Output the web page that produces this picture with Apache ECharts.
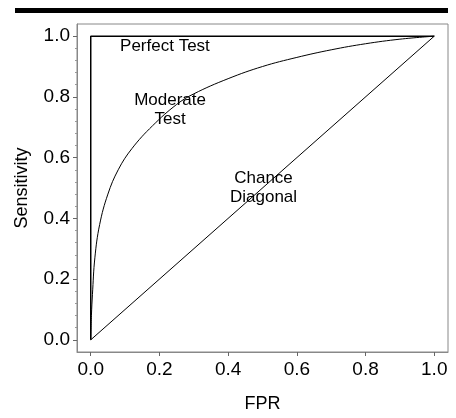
<!DOCTYPE html>
<html lang="en">
<head>
    <meta charset="UTF-8">
    <title>ROC curves</title>
    <script src="https://cdn.jsdelivr.net/npm/echarts@6.0.0/dist/echarts.min.js"></script>
    <style>
        body { margin: 0; background: #fff; }
        #main { width: 456px; height: 418px; }
    </style>
</head>
<body>
    <div id="main"></div>
    <script>
        // axis ticks
        const tickValues = [0, 0.2, 0.4, 0.6, 0.8, 1.0];

        // perfect test: straight up, then across
        const perfectX = [0, 0, 1];
        const perfectY = [0, 1, 1];

        // moderate test curve
        const moderateX = [0, 0.002, 0.005, 0.012, 0.026, 0.05, 0.08, 0.12, 0.18, 0.25, 0.3, 0.4, 0.5, 0.6, 0.7, 0.8, 0.9, 1.0];
        const moderateY = [0, 0.08, 0.15, 0.27, 0.38, 0.48, 0.56, 0.63, 0.705, 0.775, 0.81, 0.86, 0.9, 0.93, 0.955, 0.975, 0.99, 1.0];

        // chance diagonal
        const chanceX = [0, 1];
        const chanceY = [0, 1];

        // text notes, placed in data units
        const noteText = ['Perfect Test', 'Moderate\nTest', 'Chance\nDiagonal'];
        const noteX = [0.216, 0.231, 0.503];
        const noteY = [0.965, 0.756, 0.502];

        const zip = (xs, ys) => xs.map((x, i) => [x, ys[i]]);

        const chart = echarts.init(document.getElementById('main'));
        const font = 'Liberation Sans, Arial, Helvetica, sans-serif';

        const axisCommon = {
            type: 'value',
            min: -0.04,
            max: 1.04,
            splitLine: { show: false },
            axisLine: { show: true, onZero: false, lineStyle: { color: '#888', width: 1 } },
            axisTick: { show: true, length: 4, customValues: tickValues, lineStyle: { color: '#666' } },
            axisLabel: {
                customValues: tickValues,
                color: '#000',
                fontSize: 19,
                fontFamily: font,
                formatter: v => v.toFixed(1)
            },
            nameLocation: 'middle',
            nameTextStyle: { color: '#000', fontSize: 18, fontFamily: font }
        };

        const option = {
            animation: false,
            grid: {
                left: 77, right: 8, top: 24, bottom: 64,
                show: true, borderColor: '#888', borderWidth: 1
            },
            graphic: [{
                type: 'rect',
                shape: { x: 15, y: 8, width: 433, height: 5 },
                style: { fill: '#000' }
            }],
            xAxis: Object.assign({}, axisCommon, {
                name: 'FPR',
                nameGap: 43,
                axisLabel: Object.assign({}, axisCommon.axisLabel, { margin: 8 })
            }),
            yAxis: Object.assign({}, axisCommon, {
                name: 'Sensitivity',
                nameGap: 46,
                axisLabel: Object.assign({}, axisCommon.axisLabel, { margin: 7 }),
                minorTick: { show: true, splitNumber: 5, length: 2, lineStyle: { color: '#999' } }
            }),
            series: [
                {
                    type: 'line',
                    data: zip(chanceX, chanceY),
                    symbol: 'none',
                    lineStyle: { color: '#000', width: 1 }
                },
                {
                    type: 'line',
                    data: zip(moderateX, moderateY),
                    symbol: 'none',
                    smooth: 0.4,
                    lineStyle: { color: '#000', width: 1 }
                },
                {
                    type: 'line',
                    data: zip(perfectX, perfectY),
                    symbol: 'none',
                    lineStyle: { color: '#000', width: 1.5 }
                },
                {
                    type: 'scatter',
                    symbolSize: 0,
                    itemStyle: { opacity: 1 },
                    data: noteText.map((t, i) => ({ value: [noteX[i], noteY[i]], name: t })),
                    label: {
                        show: true,
                        position: 'inside',
                        formatter: p => p.name,
                        color: '#000',
                        fontSize: 17,
                        lineHeight: 19,
                        fontFamily: font,
                        align: 'center'
                    }
                }
            ]
        };

        chart.setOption(option);
    </script>
</body>
</html>
